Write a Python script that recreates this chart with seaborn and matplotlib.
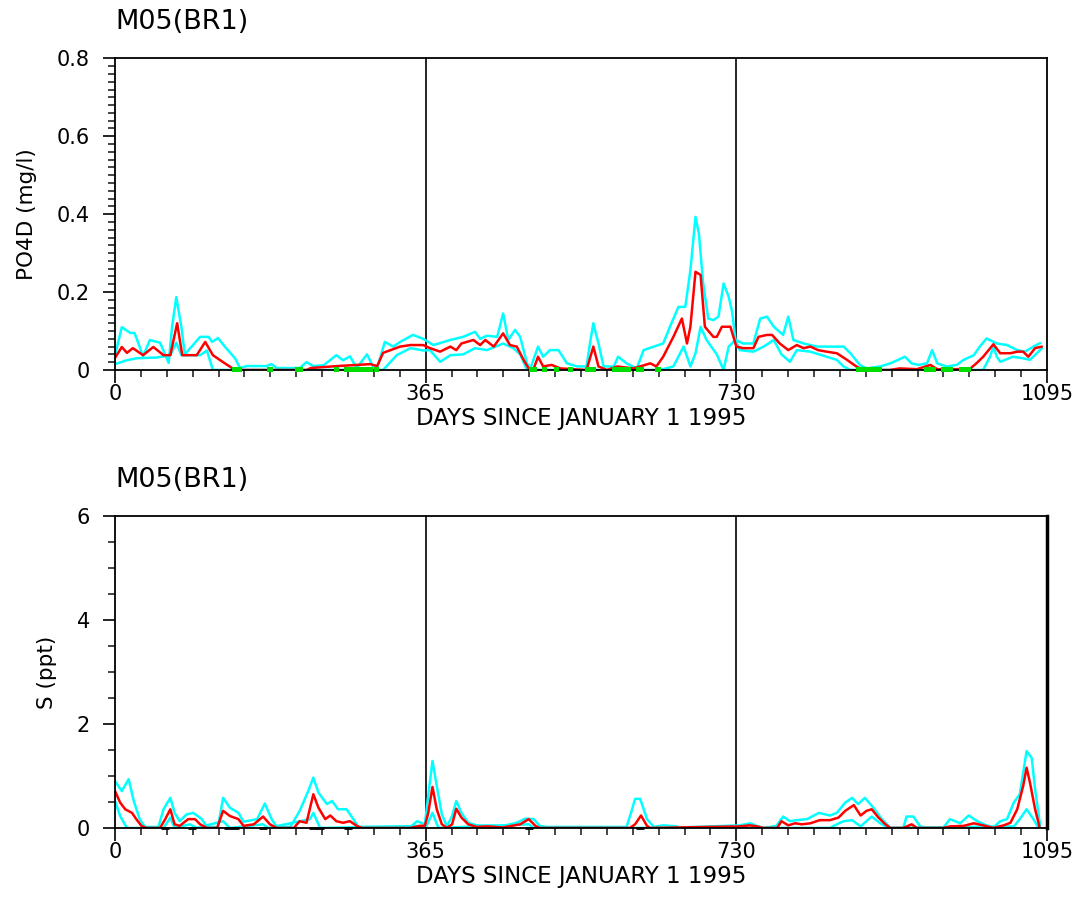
import numpy as np
import pandas as pd
import seaborn as sns
import matplotlib.pyplot as plt
from matplotlib.ticker import MultipleLocator

# Top panel: PO4D model band (red = mean, cyan = max/min)
po4_red_day = [0, 8, 14, 21, 33, 45, 57, 65, 73, 79, 96, 106, 115, 127, 141, 225, 230, 261, 300, 308,
               315, 335, 347, 362, 370, 382, 394, 401, 407, 421, 429, 435, 445, 456, 464, 472, 480, 486,
               492, 497, 503, 513, 523, 554, 562, 568, 578, 590, 609, 629, 636, 644, 656, 666, 672, 676,
               682, 688, 693, 703, 707, 713, 723, 730, 738, 750, 756, 766, 772, 781, 791, 801, 809, 817,
               826, 836, 848, 860, 871, 879, 910, 922, 942, 958, 966, 989, 1005, 1012, 1020, 1032, 1040,
               1052, 1060, 1067, 1073, 1081, 1089]
po4_red = [0.031, 0.059, 0.044, 0.056, 0.038, 0.059, 0.038, 0.038, 0.12, 0.038, 0.038, 0.072, 0.038, 0.02,
           0.0, 0.0, 0.005, 0.01, 0.015, 0.01, 0.044, 0.06, 0.064, 0.064, 0.056, 0.047, 0.06, 0.051, 0.068,
           0.077, 0.064, 0.077, 0.06, 0.094, 0.064, 0.06, 0.026, 0.004, 0.004, 0.034, 0.009, 0.013, 0.004,
           0.0, 0.06, 0.009, 0.0, 0.009, 0.004, 0.017, 0.009, 0.034, 0.085, 0.132, 0.068, 0.111, 0.252,
           0.244, 0.111, 0.085, 0.085, 0.111, 0.111, 0.06, 0.056, 0.056, 0.085, 0.09, 0.09, 0.068, 0.051,
           0.064, 0.056, 0.06, 0.051, 0.047, 0.043, 0.026, 0.009, 0.0, 0.0, 0.004, 0.002, 0.013, 0.002,
           0.002, 0.004, 0.017, 0.034, 0.066, 0.043, 0.043, 0.047, 0.047, 0.034, 0.056, 0.06]

po4_hi_day = [0, 8, 18, 23, 33, 41, 53, 63, 67, 72, 78, 82, 100, 110, 114, 121, 129, 141, 147, 155, 178,
              184, 190, 217, 225, 233, 245, 260, 268, 276, 284, 296, 304, 308, 317, 327, 335, 350, 362, 374,
              394, 409, 423, 429, 437, 449, 456, 462, 470, 476, 484, 488, 497, 503, 511, 521, 531, 543, 554,
              558, 562, 568, 574, 586, 591, 601, 613, 621, 633, 644, 652, 662, 670, 676, 682, 686, 691, 697,
              703, 709, 715, 721, 725, 729, 738, 750, 758, 766, 774, 785, 791, 797, 809, 825, 840, 856, 864,
              875, 883, 899, 911, 928, 936, 944, 954, 960, 966, 977, 989, 997, 1009, 1016, 1024, 1036, 1048,
              1060, 1069, 1079, 1087]
po4_hi = [0.038, 0.11, 0.095, 0.095, 0.035, 0.077, 0.07, 0.018, 0.11, 0.187, 0.11, 0.04, 0.085, 0.085,
          0.072, 0.082, 0.06, 0.03, 0.005, 0.01, 0.01, 0.015, 0.005, 0.005, 0.02, 0.01, 0.012, 0.038, 0.025,
          0.035, 0.005, 0.04, 0.005, 0.005, 0.072, 0.06, 0.072, 0.09, 0.08, 0.064, 0.077, 0.085, 0.098, 0.08,
          0.088, 0.085, 0.145, 0.077, 0.103, 0.085, 0.017, 0.004, 0.06, 0.034, 0.051, 0.051, 0.017, 0.009,
          0.009, 0.068, 0.12, 0.068, 0.009, 0.009, 0.034, 0.017, 0.004, 0.051, 0.06, 0.068, 0.111, 0.162,
          0.162, 0.256, 0.393, 0.35, 0.222, 0.132, 0.128, 0.137, 0.222, 0.188, 0.15, 0.077, 0.068, 0.068,
          0.132, 0.137, 0.111, 0.09, 0.137, 0.077, 0.068, 0.06, 0.06, 0.06, 0.043, 0.013, 0.004, 0.009,
          0.017, 0.034, 0.017, 0.013, 0.017, 0.051, 0.017, 0.009, 0.013, 0.026, 0.038, 0.06, 0.081, 0.068,
          0.064, 0.051, 0.047, 0.06, 0.069]

po4_lo_day = [0, 14, 25, 49, 65, 72, 78, 100, 108, 115, 315, 331, 347, 362, 370, 382, 394, 409, 423, 437,
              456, 468, 476, 484, 640, 656, 668, 676, 682, 688, 695, 707, 715, 721, 729, 734, 750, 762, 774,
              783, 793, 801, 817, 836, 848, 856, 864, 1020, 1028, 1032, 1036, 1040, 1055, 1067, 1075, 1089]
po4_lo = [0.015, 0.025, 0.03, 0.032, 0.038, 0.07, 0.038, 0.038, 0.05, 0.0, 0.0, 0.038, 0.056, 0.05, 0.051,
          0.021, 0.038, 0.04, 0.056, 0.051, 0.068, 0.056, 0.04, 0.0, 0.0, 0.009, 0.06, 0.009, 0.043, 0.111,
          0.077, 0.04, 0.0, 0.06, 0.077, 0.051, 0.047, 0.06, 0.077, 0.04, 0.021, 0.051, 0.047, 0.034, 0.026,
          0.009, 0.0, 0.0, 0.034, 0.06, 0.034, 0.021, 0.034, 0.03, 0.026, 0.056]

po4_obs_day = [140, 143, 146, 182, 215, 218, 260, 272, 276, 280, 284, 288, 292, 296, 300, 307, 490, 493,
               505, 519, 535, 555, 558, 562, 587, 591, 595, 599, 603, 615, 619, 638, 874, 878, 882, 886,
               890, 894, 898, 954, 958, 962, 973, 977, 981, 995, 999, 1003]

# Bottom panel: salinity
s_red_day = [0, 6, 12, 20, 25, 31, 37, 53, 59, 65, 70, 76, 86, 94, 100, 108, 120, 127, 135, 145, 151, 163,
             174, 182, 190, 210, 217, 225, 233, 239, 247, 253, 260, 268, 276, 284, 290, 347, 358, 364, 368,
             373, 378, 384, 390, 396, 401, 407, 415, 425, 437, 456, 476, 486, 494, 499, 605, 611, 618, 625,
             629, 734, 746, 754, 762, 778, 783, 791, 799, 807, 817, 828, 840, 850, 858, 868, 876, 883, 889,
             897, 905, 911, 926, 936, 942, 973, 981, 997, 1009, 1020, 1032, 1044, 1052, 1060, 1067, 1071,
             1075, 1081, 1086]
s_red = [0.71, 0.49, 0.36, 0.29, 0.17, 0.04, 0.0, 0.0, 0.17, 0.36, 0.07, 0.04, 0.17, 0.17, 0.07, 0.0, 0.0,
         0.33, 0.23, 0.17, 0.04, 0.07, 0.22, 0.07, 0.0, 0.0, 0.13, 0.1, 0.65, 0.39, 0.17, 0.24, 0.13, 0.1,
         0.13, 0.04, 0.0, 0.0, 0.04, 0.04, 0.29, 0.79, 0.36, 0.07, 0.0, 0.07, 0.37, 0.2, 0.07, 0.02, 0.03,
         0.01, 0.07, 0.17, 0.04, 0.0, 0.0, 0.07, 0.24, 0.04, 0.0, 0.03, 0.05, 0.03, 0.0, 0.0, 0.13, 0.05,
         0.09, 0.07, 0.09, 0.15, 0.15, 0.2, 0.33, 0.44, 0.24, 0.33, 0.36, 0.2, 0.07, 0.0, 0.0, 0.07, 0.0,
         0.0, 0.03, 0.04, 0.09, 0.05, 0.0, 0.05, 0.1, 0.36, 0.81, 1.16, 0.87, 0.36, 0.03]

s_hi_day = [0, 8, 16, 22, 29, 35, 51, 57, 65, 70, 76, 84, 92, 102, 108, 121, 127, 135, 145, 151, 167, 176,
            184, 190, 206, 217, 227, 233, 239, 249, 255, 262, 272, 280, 286, 347, 355, 364, 368, 373, 378,
            384, 390, 396, 401, 407, 415, 425, 456, 472, 482, 492, 499, 507, 601, 607, 611, 617, 625, 633,
            644, 660, 664, 734, 746, 754, 762, 777, 785, 793, 801, 813, 827, 840, 848, 858, 866, 873, 881,
            891, 901, 911, 926, 930, 938, 946, 954, 973, 981, 993, 1003, 1013, 1024, 1032, 1040, 1048, 1056,
            1063, 1071, 1077, 1081, 1087]
s_hi = [0.9, 0.71, 0.94, 0.52, 0.17, 0.02, 0.02, 0.36, 0.58, 0.29, 0.13, 0.26, 0.29, 0.17, 0.02, 0.02,
        0.58, 0.39, 0.29, 0.12, 0.17, 0.47, 0.17, 0.02, 0.02, 0.33, 0.71, 0.97, 0.68, 0.46, 0.52, 0.36,
        0.36, 0.17, 0.02, 0.02, 0.13, 0.07, 0.62, 1.29, 0.81, 0.26, 0.03, 0.23, 0.52, 0.29, 0.1, 0.05, 0.04,
        0.1, 0.18, 0.17, 0.04, 0.02, 0.02, 0.33, 0.56, 0.56, 0.17, 0.02, 0.05, 0.03, 0.01, 0.05, 0.09,
        0.04, 0.0, 0.04, 0.22, 0.13, 0.15, 0.17, 0.29, 0.24, 0.29, 0.49, 0.58, 0.46, 0.58, 0.39, 0.17, 0.0,
        0.0, 0.22, 0.22, 0.03, 0.0, 0.0, 0.17, 0.09, 0.24, 0.13, 0.05, 0.01, 0.13, 0.17, 0.49, 0.65, 1.48,
        1.35, 0.74, 0.04]

s_lo_day = [0, 6, 14, 57, 65, 70, 88, 96, 127, 135, 174, 180, 229, 233, 241, 366, 373, 380, 486, 492, 840,
            848, 856, 866, 876, 889, 899, 909, 1056, 1063, 1071, 1079, 1085]
s_lo = [0.52, 0.23, 0.0, 0.0, 0.2, 0.0, 0.07, 0.0, 0.13, 0.0, 0.07, 0.0, 0.17, 0.29, 0.0, 0.04, 0.29, 0.0,
        0.07, 0.0, 0.0, 0.07, 0.13, 0.15, 0.03, 0.22, 0.09, 0.0, 0.03, 0.17, 0.36, 0.17, 0.0]

s_obs_day = [59, 90, 133, 141, 174, 233, 241, 274, 486, 617]

plt.rcParams['figure.figsize'] = (10.85, 8.98)
sns.set_style('ticks')
plt.rcParams['font.family'] = ['DejaVu Sans']
plt.rcParams['text.color'] = 'black'
plt.rcParams['axes.labelcolor'] = 'black'

fig = plt.figure(dpi=100)
ax1 = fig.add_axes([0.106, 0.588, 0.859, 0.347])
ax2 = fig.add_axes([0.106, 0.078, 0.859, 0.347])

cyan = '#00ffff'
red = '#ff0000'


def draw_panel(ax, hi_d, hi, lo_d, lo, red_d, red_v, ymax, ystep, yminor, ylabel, yfmt):
    sns.lineplot(x=hi_d, y=hi, ax=ax, color=cyan, lw=1.8, estimator=None)
    sns.lineplot(x=lo_d, y=lo, ax=ax, color=cyan, lw=1.8, estimator=None)
    sns.lineplot(x=red_d, y=red_v, ax=ax, color=red, lw=1.8, estimator=None)
    for d in (365, 730):
        ax.axvline(d, color='black', lw=1.2, zorder=1)
    ax.set_xlim(0, 1095)
    ax.set_ylim(0, ymax)
    ax.set_xticks([0, 365, 730, 1095])
    ax.xaxis.set_minor_locator(MultipleLocator(365 / 12))
    ax.set_yticks(np.arange(0, ymax + ystep / 2, ystep))
    ax.set_yticklabels([yfmt(v) for v in np.arange(0, ymax + ystep / 2, ystep)])
    ax.yaxis.set_minor_locator(MultipleLocator(yminor))
    ax.tick_params(axis='both', which='major', direction='out', length=9, width=1.2,
                   labelsize=15, colors='black')
    ax.tick_params(axis='x', which='major', pad=1)
    ax.tick_params(axis='y', which='major', pad=9)
    ax.tick_params(axis='both', which='minor', direction='out', length=5, width=1.2)
    for sp in ax.spines.values():
        sp.set_visible(True)
        sp.set_color('black')
        sp.set_linewidth(1.3)
    ax.set_xlabel('DAYS SINCE JANUARY 1 1995', fontsize=16.5, labelpad=2)
    ax.set_ylabel(ylabel, fontsize=15.5, labelpad=14)
    ax.text(0.0, 1.075, 'M05(BR1)', transform=ax.transAxes, fontsize=19.5, ha='left', va='bottom')


draw_panel(ax1, po4_hi_day, po4_hi, po4_lo_day, po4_lo, po4_red_day, po4_red,
           0.8, 0.2, 0.02, 'PO4D (mg/l)', lambda v: '0' if v == 0 else f'{v:.1f}')
sns.scatterplot(x=po4_obs_day, y=[0.002] * len(po4_obs_day), ax=ax1, marker='s', s=14,
                color='#00dd00', edgecolor='none', clip_on=False, zorder=5)

draw_panel(ax2, s_hi_day, s_hi, s_lo_day, s_lo, s_red_day, s_red,
           6, 2, 0.5, 'S (ppt)', lambda v: f'{int(v)}')
sns.scatterplot(x=s_obs_day, y=[0.0] * len(s_obs_day), ax=ax2, marker='_', s=40,
                color='black', linewidth=2, clip_on=False, zorder=5)
ax2.spines['right'].set_linewidth(2.5)

fig.savefig('out.png', dpi=100)
